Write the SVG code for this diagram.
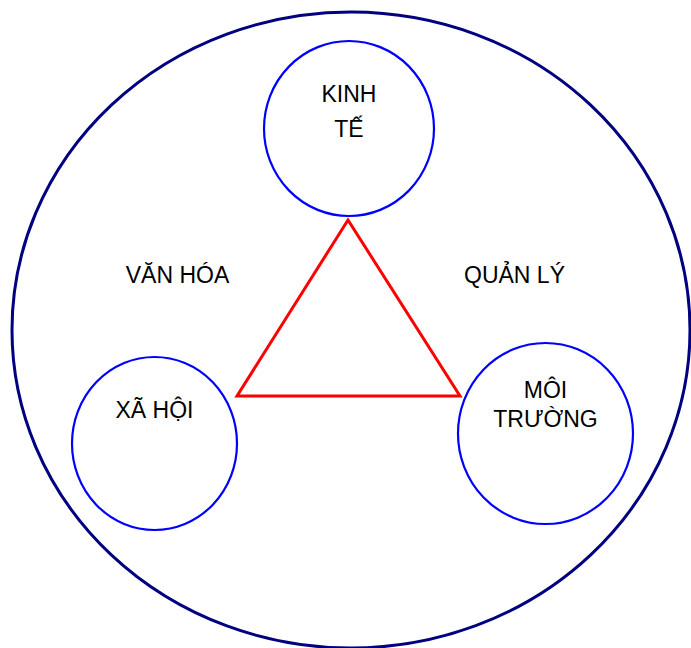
<svg xmlns="http://www.w3.org/2000/svg" width="691" height="648" viewBox="0 0 691 648">
<style>
.node{fill:#fff;stroke:#0000FF;stroke-width:2.2}
.lbl{font-family:"Liberation Sans",Arial,sans-serif;font-size:23px;fill:#000;text-anchor:middle}
</style>
<rect width="691" height="648" fill="#fff"/>
<g id="outer">
<ellipse cx="351" cy="330" rx="339" ry="318" fill="#fff" stroke="#000080" stroke-width="3"/>
</g>
<g id="connectors">
<polygon points="348,220 237,396 460,396" fill="none" stroke="#FF0000" stroke-width="3"/>
</g>
<g id="kinh-te">
<ellipse class="node" cx="349" cy="128.5" rx="85" ry="87.5"/>
<text class="lbl" x="349" y="102">KINH</text>
<text class="lbl" x="349" y="137">TẾ</text>
</g>
<g id="xa-hoi">
<ellipse class="node" cx="154.5" cy="443.5" rx="82.5" ry="86.5"/>
<text class="lbl" x="154.5" y="418">XÃ HỘI</text>
</g>
<g id="moi-truong">
<ellipse class="node" cx="545.5" cy="433.5" rx="87.5" ry="90.5"/>
<text class="lbl" x="545.5" y="398">MÔI</text>
<text class="lbl" x="545.5" y="427">TRƯỜNG</text>
</g>
<g id="van-hoa">
<text class="lbl" x="177.5" y="283">VĂN HÓA</text>
</g>
<g id="quan-ly">
<text class="lbl" x="514.5" y="283">QUẢN LÝ</text>
</g>
</svg>
